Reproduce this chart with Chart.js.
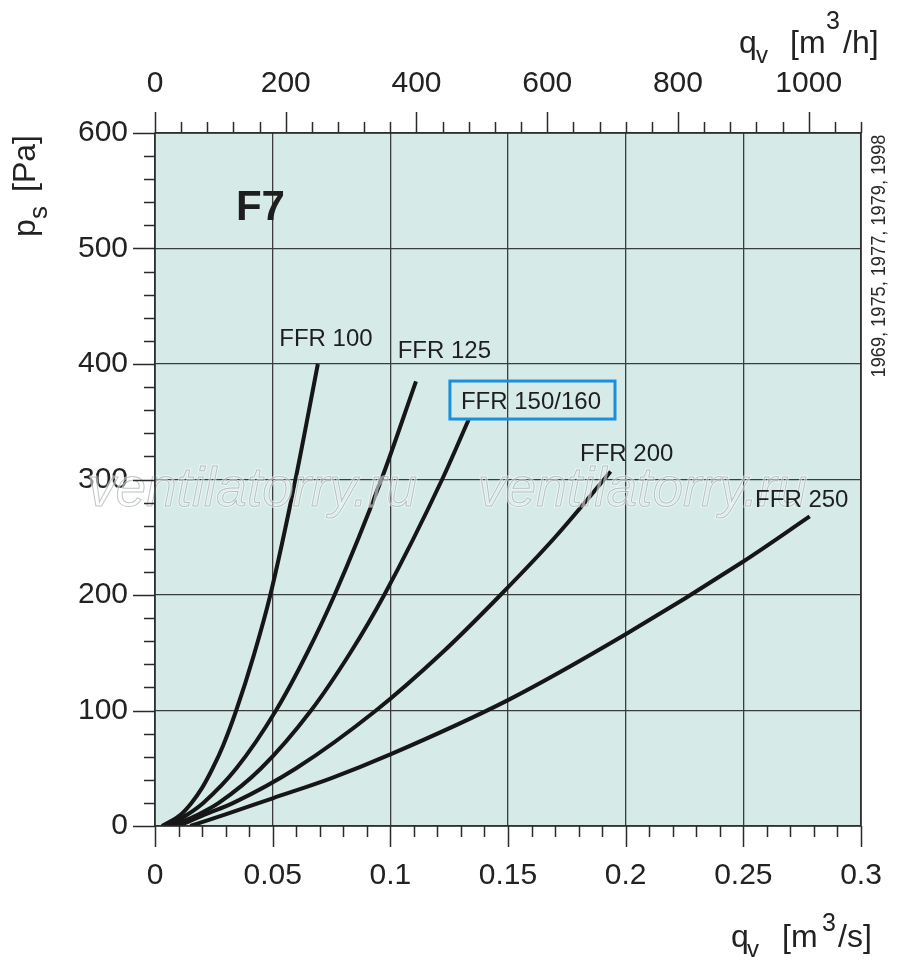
<!DOCTYPE html>
<html><head><meta charset="utf-8">
<script src="https://cdn.jsdelivr.net/npm/chart.js@4.4.1/dist/chart.umd.min.js"></script>
<style>html,body{margin:0;padding:0;background:#fff}#wrap{width:900px;height:966px}</style>
</head><body><div id="wrap"><canvas id="c" width="900" height="966"></canvas></div>
<script>
// ---- data (q in m3/s, p in Pa) ----
const seriesNames = ['FFR 100', 'FFR 125', 'FFR 150/160', 'FFR 200', 'FFR 250'];
const ffr100Q = [0.003, 0.011, 0.0155, 0.020, 0.0245, 0.029, 0.0345, 0.042, 0.049, 0.0597, 0.0692];
const ffr100P = [0, 10, 20, 33, 50, 70, 100, 148, 200, 300, 400];
const ffr125Q = [0.005, 0.0138, 0.0205, 0.0346, 0.0514, 0.0647, 0.0763, 0.0962, 0.1109];
const ffr125P = [0, 10, 20, 50, 100, 150, 200, 300, 385];
const ffr150Q = [0.007, 0.0184, 0.0271, 0.0451, 0.0663, 0.083, 0.0974, 0.122, 0.1333];
const ffr150P = [0, 10, 20, 50, 100, 150, 200, 300, 352];
const ffr200Q = [0.010, 0.0213, 0.0333, 0.060, 0.0939, 0.122, 0.1468, 0.170, 0.1908, 0.1936];
const ffr200P = [0, 10, 20, 50, 100, 150, 200, 250, 300, 307];
const ffr250Q = [0.015, 0.030, 0.050, 0.075, 0.100, 0.150, 0.200, 0.250, 0.2782];
const ffr250P = [0, 10, 24, 41.5, 62, 109, 166, 229, 268];

const qTicksMajor = [0, 0.05, 0.1, 0.15, 0.2, 0.25, 0.3];
const pTicksMajor = [0, 100, 200, 300, 400, 500, 600];
const qhTickLabels = [0, 200, 400, 600, 800, 1000];

const chartTitle = 'F7';
const yearsNote = '1969, 1975, 1977, 1979, 1998';
const watermark = 'ventilatorry.ru';

// label anchors (data coords: left edge, baseline)
const labelQ = [0.0528, 0.1031, 0.1300, 0.1806, 0.2550];
const labelP = [415.6, 405.2, 361.0, 316.0, 276.2];
const highlighted = 2;

const qList = [ffr100Q, ffr125Q, ffr150Q, ffr200Q, ffr250Q];
const pList = [ffr100P, ffr125P, ffr150P, ffr200P, ffr250P];

const FONT = '"Liberation Sans", Arial, sans-serif';
const datasets = seriesNames.map((n, i) => ({
  label: n,
  data: qList[i].map((q, j) => ({x: q, y: pList[i][j]})),
  showLine: true,
  borderColor: '#161616',
  borderWidth: 4,
  pointRadius: 0,
  cubicInterpolationMode: 'monotone',
  fill: false
}));

function richText(ctx, parts, y) {
  for (const p of parts) {
    ctx.font = p.size + 'px ' + FONT;
    ctx.fillText(p.t, p.x, y + (p.dy || 0));
  }
}

const decor = {
  id: 'decor',
  beforeDraw(chart) {
    const {ctx, chartArea: a} = chart;
    ctx.save();
    ctx.fillStyle = '#d6ebe8';
    ctx.fillRect(a.left, a.top, a.right - a.left, a.bottom - a.top);
    ctx.restore();
  },
  afterDatasetsDraw(chart) {
    const {ctx} = chart;
    const xs = chart.scales.x, ys = chart.scales.y;
    ctx.save();
    ctx.font = 'italic 55px ' + FONT;
    ctx.textBaseline = 'alphabetic';
    const wy = ys.getPixelForValue(277);
    [-0.0285, 0.1373].forEach(q => {
      const wx = xs.getPixelForValue(q);
      ctx.lineWidth = 3;
      ctx.strokeStyle = 'rgba(255,255,255,0.55)';
      ctx.strokeText(watermark, wx, wy);
      ctx.lineWidth = 1;
      ctx.strokeStyle = 'rgba(130,140,140,0.5)';
      ctx.strokeText(watermark, wx, wy);
    });
    ctx.restore();
  },
  afterDraw(chart) {
    const {ctx, chartArea: a} = chart;
    const xs = chart.scales.x, ys = chart.scales.y, xt = chart.scales.x2;
    ctx.save();
    ctx.strokeStyle = '#2a2a2a';
    ctx.lineWidth = 1.5;
    ctx.strokeRect(a.left, a.top, a.right - a.left, a.bottom - a.top);
    ctx.beginPath();
    for (let v = 0; v <= 600; v += 20) {
      const y = Math.round(ys.getPixelForValue(v)) + 0.5;
      const len = v % 100 === 0 ? 22 : 11;
      ctx.moveTo(a.left - len, y); ctx.lineTo(a.left, y);
    }
    for (let k = 0; k <= 30; k++) {
      const x = Math.round(xs.getPixelForValue(k / 100)) + 0.5;
      const len = k % 5 === 0 ? 21 : 11;
      ctx.moveTo(x, a.bottom); ctx.lineTo(x, a.bottom + len);
    }
    for (let v = 0; v <= 1080; v += 40) {
      const x = Math.round(xt.getPixelForValue(v)) + 0.5;
      const len = v % 200 === 0 ? 21 : 11;
      ctx.moveTo(x, a.top); ctx.lineTo(x, a.top - len);
    }
    ctx.stroke();

    ctx.fillStyle = '#1e1e1e';
    ctx.textBaseline = 'alphabetic';
    ctx.textAlign = 'left';
    ctx.font = '24px ' + FONT;
    seriesNames.forEach((n, i) => {
      const x = xs.getPixelForValue(labelQ[i]);
      const y = ys.getPixelForValue(labelP[i]);
      ctx.fillText(n, x, y);
      if (i === highlighted) {
        const w = ctx.measureText(n).width;
        ctx.save();
        ctx.strokeStyle = '#1a8fdc';
        ctx.lineWidth = 3;
        ctx.strokeRect(x - 11, y - 28, w + 25, 38);
        ctx.restore();
      }
    });
    ctx.font = 'bold 42px ' + FONT;
    ctx.fillText(chartTitle, xs.getPixelForValue(0.0344), ys.getPixelForValue(524.7));

    ctx.fillStyle = '#222';
    richText(ctx, [
      {t: 'q', size: 32, x: 739},
      {t: 'v', size: 24, x: 756, dy: 10},
      {t: '[m', size: 32, x: 790},
      {t: '3', size: 25, x: 826, dy: -24},
      {t: '/h]', size: 32, x: 843}
    ], 53);
    richText(ctx, [
      {t: 'q', size: 32, x: 731},
      {t: 'v', size: 24, x: 747, dy: 10},
      {t: '[m', size: 32, x: 782},
      {t: '3', size: 25, x: 822, dy: -16},
      {t: '/s]', size: 32, x: 838}
    ], 947);
    ctx.save();
    ctx.translate(35, 237);
    ctx.rotate(-Math.PI / 2);
    richText(ctx, [
      {t: 'p', size: 32, x: 0},
      {t: 's', size: 26, x: 18, dy: 12},
      {t: '[Pa]', size: 32, x: 45}
    ], 0);
    ctx.restore();
    ctx.save();
    ctx.translate(885, 256);
    ctx.rotate(-Math.PI / 2);
    ctx.font = '20px ' + FONT;
    const tw = ctx.measureText(yearsNote).width;
    ctx.scale(243 / tw, 1);
    ctx.textAlign = 'center';
    ctx.fillStyle = '#2a2a2a';
    ctx.fillText(yearsNote, 0, 0);
    ctx.restore();
    ctx.restore();
  }
};

const tickFont = {family: FONT, size: 30};
const noPadX = s => { s.paddingLeft = 0; s.paddingRight = 0; };
new Chart(document.getElementById('c'), {
  type: 'scatter',
  data: {datasets},
  options: {
    responsive: false,
    animation: false,
    devicePixelRatio: 1,
    layout: {padding: {left: 0, right: 39, top: 0, bottom: 0}},
    plugins: {legend: {display: false}, tooltip: {enabled: false}},
    scales: {
      x: {
        type: 'linear', position: 'bottom', min: 0, max: 0.3,
        afterBuildTicks: s => { s.ticks = qTicksMajor.map(v => ({value: v})); },
        afterFit: s => { s.height = 140; noPadX(s); },
        ticks: {font: tickFont, color: '#222', padding: 32, maxRotation: 0,
          callback: v => String(+(+v).toFixed(2))},
        grid: {color: '#3c3c3c', lineWidth: 1.3, drawTicks: false},
        border: {display: false}
      },
      x2: {
        type: 'linear', position: 'top', min: 0, max: 1080,
        afterBuildTicks: s => { s.ticks = qhTickLabels.map(v => ({value: v})); },
        afterFit: s => { s.height = 133; noPadX(s); },
        ticks: {font: tickFont, color: '#222', padding: 31, maxRotation: 0,
          callback: v => String(v)},
        grid: {display: false, drawTicks: false},
        border: {display: false}
      },
      y: {
        type: 'linear', position: 'left', min: 0, max: 600,
        afterBuildTicks: s => { s.ticks = pTicksMajor.map(v => ({value: v})); },
        afterFit: s => { s.width = 155; s.paddingTop = 0; s.paddingBottom = 0; },
        ticks: {font: tickFont, color: '#222', padding: 27},
        grid: {color: '#3c3c3c', lineWidth: 1.3, drawTicks: false},
        border: {display: false}
      }
    }
  },
  plugins: [decor]
});
</script>
</body></html>
